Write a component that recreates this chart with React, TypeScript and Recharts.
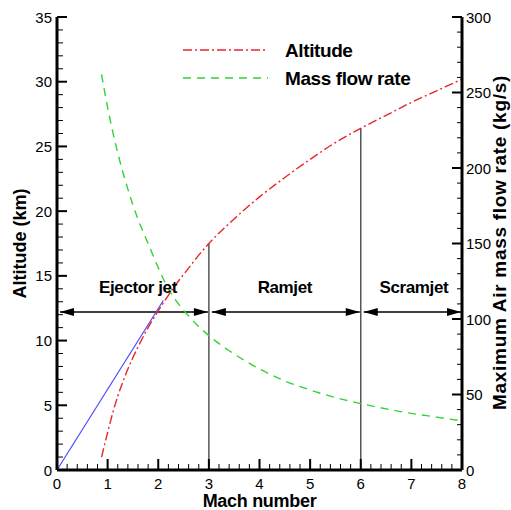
import React from "react";
import { ComposedChart, Line, XAxis, YAxis, ReferenceLine, ReferenceDot, Legend } from "recharts";

// altitude (km) vs Mach along the flight path
const altitudeMach = [0.88, 1.0, 1.1, 1.2, 1.3, 1.4, 1.6, 1.8, 2.0, 2.2, 2.4, 2.6, 2.8, 3.0, 3.5, 4.0, 4.5, 5.0, 5.5, 6.0, 6.5, 7.0, 7.5, 8.0];
const altitudeKm = [1.0, 2.9, 4.4, 5.7, 6.8, 7.8, 9.5, 11.0, 12.3, 13.5, 14.6, 15.6, 16.6, 17.5, 19.4, 21.1, 22.6, 24.0, 25.3, 26.4, 27.4, 28.4, 29.3, 30.2];

// maximum air mass flow rate (kg/s)
const flowMach = [0.88, 1.0, 1.2, 1.4, 1.6, 1.8, 2.0, 2.2, 2.4, 2.6, 2.8, 3.0, 3.4, 4.0, 4.5, 5.0, 5.5, 6.0, 6.5, 7.0, 7.5, 8.0];
const flowRate = [262, 240, 210, 186, 166, 150, 134, 120, 110, 102, 95, 89, 79, 67, 59, 53, 48, 44, 40.5, 37.5, 35, 32.5];

// straight ejector reference line
const ejectorMach = [0, 2.1];
const ejectorKm = [0, 13.1];

// engine regimes
const stageNames = ["Ejector jet", "Ramjet", "Scramjet"];
const stageFrom = [0, 3, 6];
const stageTo = [3, 6, 8];
const stageLabelMach = [1.6, 4.5, 7.05];
const stageLabelKm = 14.1;
const arrowKm = 12.2;
const boundaryMach = [3, 6];
const boundaryKm = [17.5, 26.4];

const xMajor = [0, 1, 2, 3, 4, 5, 6, 7, 8];
const altMajor = [0, 5, 10, 15, 20, 25, 30, 35];
const flowMajor = [0, 50, 100, 150, 200, 250, 300];

const xTicks = Array.from({ length: 41 }, (_, i) => +(i * 0.2).toFixed(1));
const altTicks = Array.from({ length: 36 }, (_, i) => i);
const flowTicks = Array.from({ length: 31 }, (_, i) => i * 10);

const altitudeData = altitudeMach.map((m, i) => ({ mach: m, alt: altitudeKm[i] }));
const flowData = flowMach.map((m, i) => ({ mach: m, flow: flowRate[i] }));
const ejectorData = ejectorMach.map((m, i) => ({ mach: m, alt: ejectorKm[i] }));

const FONT = "'Liberation Sans', Arial, sans-serif";
const RED = "#e5262b";
const GREEN = "#33d233";
const BLUE = "#4b4bff";

const LeftTick = (p: any) => {
  const major = altMajor.includes(p.payload.value);
  return (
    <g>
      <line x1={p.x} x2={p.x + (major ? 10 : 6)} y1={p.y} y2={p.y} stroke="#000" strokeWidth={major ? 2 : 1} />
      {major && (
        <text x={p.x - 5} y={p.y} textAnchor="end" dominantBaseline="central" fontSize={15} fontFamily={FONT} fill="#000">
          {p.payload.value}
        </text>
      )}
    </g>
  );
};

const RightTick = (p: any) => {
  const major = flowMajor.includes(p.payload.value);
  return (
    <g>
      <line x1={p.x} x2={p.x - (major ? 10 : 5)} y1={p.y} y2={p.y} stroke="#000" strokeWidth={major ? 2 : 1} />
      {major && (
        <text x={p.x + 4} y={p.y} textAnchor="start" dominantBaseline="central" fontSize={15} fontFamily={FONT} fill="#000">
          {p.payload.value}
        </text>
      )}
    </g>
  );
};

const BottomTick = (p: any) => {
  const v = p.payload.value;
  const major = xMajor.some((m) => Math.abs(m - v) < 1e-6);
  return (
    <g>
      <line x1={p.x} x2={p.x} y1={p.y} y2={p.y - (major ? 11 : 6)} stroke="#000" strokeWidth={major ? 2 : 1} />
      {major && (
        <text x={p.x} y={p.y + 13} textAnchor="middle" dominantBaseline="central" fontSize={15} fontFamily={FONT} fill="#000">
          {Math.round(v)}
        </text>
      )}
    </g>
  );
};

const Arrow = (p: any) => {
  const y = p.y1;
  const l = p.x1 + 3;
  const r = p.x2 - 1;
  return (
    <g>
      <line x1={l} x2={r} y1={y} y2={y} stroke="#000" strokeWidth={1.5} />
      <polygon points={`${l},${y} ${l + 14},${y - 4} ${l + 14},${y + 4}`} fill="#000" />
      <polygon points={`${r},${y} ${r - 14},${y - 4} ${r - 14},${y + 4}`} fill="#000" />
    </g>
  );
};

const titleStyle = { fontFamily: FONT, fontWeight: 700, fill: "#000" } as const;

const LegendBox = () => (
  <svg width={260} height={60} style={{ display: "block", pointerEvents: "none" }}>
    <line x1={8} x2={93} y1={14} y2={14} stroke={RED} strokeWidth={1.5} strokeDasharray="9 3 2 3" />
    <text x={110} y={14} dominantBaseline="central" fontSize={19} letterSpacing={-0.4} {...titleStyle}>Altitude</text>
    <line x1={8} x2={93} y1={42} y2={42} stroke={GREEN} strokeWidth={1.5} strokeDasharray="8 6" />
    <text x={110} y={42} dominantBaseline="central" fontSize={19} letterSpacing={-0.4} {...titleStyle}>Mass flow rate</text>
  </svg>
);

export default function App() {
  return (
    <div style={{ position: "absolute", left: 0, top: 0, width: 511, height: 510, background: "#fff" }}>
      <ComposedChart width={511} height={510} margin={{ top: 17, right: 0, bottom: 0, left: 0 }} style={{ fontFamily: FONT }}>
        <XAxis
          type="number"
          dataKey="mach"
          domain={[0, 8]}
          ticks={xTicks}
          interval={0}
          height={40}
          tickSize={0}
          tickMargin={0}
          tickLine={false}
          axisLine={{ stroke: "#000", strokeWidth: 3 }}
          tick={(p: any) => <BottomTick {...p} />}
          label={{
            content: ({ viewBox }: any) => (
              <text x={viewBox.x + viewBox.width / 2} y={viewBox.y + 31} textAnchor="middle" dominantBaseline="central" fontSize={18} letterSpacing={-0.3} {...titleStyle}>
                Mach number
              </text>
            ),
          }}
        />
        <YAxis
          yAxisId="left"
          type="number"
          domain={[0, 35]}
          ticks={altTicks}
          interval={0}
          width={57}
          tickSize={0}
          tickMargin={0}
          tickLine={false}
          axisLine={{ stroke: "#000", strokeWidth: 3 }}
          tick={(p: any) => <LeftTick {...p} />}
          label={{
            content: ({ viewBox }: any) => {
              const x = viewBox.x + 20;
              const y = viewBox.y + viewBox.height / 2;
              return (
                <text x={x} y={y} transform={`rotate(-90 ${x} ${y})`} textAnchor="middle" dominantBaseline="central" fontSize={18} {...titleStyle}>
                  Altitude (km)
                </text>
              );
            },
          }}
        />
        <YAxis
          yAxisId="right"
          orientation="right"
          type="number"
          domain={[0, 300]}
          ticks={flowTicks}
          interval={0}
          width={49}
          tickSize={0}
          tickMargin={0}
          tickLine={false}
          axisLine={{ stroke: "#000", strokeWidth: 3 }}
          tick={(p: any) => <RightTick {...p} />}
          label={{
            content: ({ viewBox }: any) => {
              const x = viewBox.x + 37;
              const y = viewBox.y + viewBox.height / 2 - 1;
              return (
                <text x={x} y={y} transform={`rotate(-90 ${x} ${y})`} textAnchor="middle" dominantBaseline="central" fontSize={19} letterSpacing={0.7} {...titleStyle}>
                  Maximum Air mass flow rate (kg/s)
                </text>
              );
            },
          }}
        />
        <Legend
          layout="vertical"
          verticalAlign="middle"
          align="center"
          content={() => <LegendBox />}
          wrapperStyle={{ left: 175, top: 36, width: 260, height: 60 }}
        />

        {boundaryMach.map((m, i) => (
          <ReferenceLine
            key={`b${i}`}
            yAxisId="left"
            segment={[{ x: m, y: 0 }, { x: m, y: boundaryKm[i] }]}
            stroke="#555"
            strokeWidth={1.5}
          />
        ))}
        {stageNames.map((n, i) => (
          <ReferenceLine
            key={`a${i}`}
            yAxisId="left"
            segment={[{ x: stageFrom[i], y: arrowKm }, { x: stageTo[i], y: arrowKm }]}
            shape={(p: any) => <Arrow {...p} />}
          />
        ))}
        {stageNames.map((n, i) => (
          <ReferenceDot
            key={`l${i}`}
            yAxisId="left"
            x={stageLabelMach[i]}
            y={stageLabelKm}
            r={0}
            shape={(p: any) => (
              <text x={p.cx} y={p.cy} textAnchor="middle" dominantBaseline="central" fontSize={17} letterSpacing={-0.4} {...titleStyle}>
                {n}
              </text>
            )}
          />
        ))}

        <Line yAxisId="left" data={ejectorData} dataKey="alt" type="linear" stroke={BLUE} strokeWidth={1.2} dot={false} isAnimationActive={false} legendType="none" />
        <Line yAxisId="left" data={altitudeData} dataKey="alt" name="Altitude" type="monotone" stroke={RED} strokeWidth={1.4} strokeDasharray="9 3 2 3" dot={false} isAnimationActive={false} />
        <Line yAxisId="right" data={flowData} dataKey="flow" name="Mass flow rate" type="monotone" stroke={GREEN} strokeWidth={1.4} strokeDasharray="8 6" dot={false} isAnimationActive={false} />
      </ComposedChart>
    </div>
  );
}
